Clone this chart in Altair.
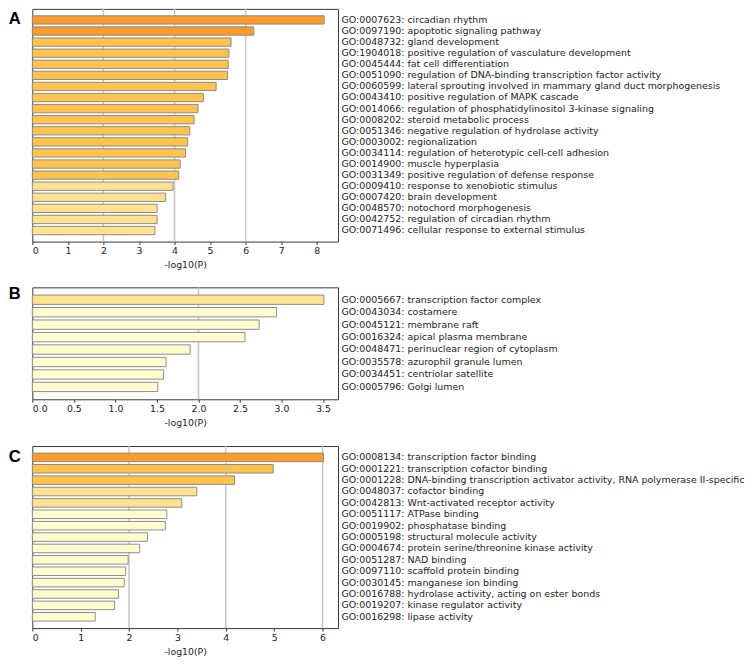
import altair as alt
import pandas as pd

# ---------------- data ----------------
a_terms = [
    "GO:0007623: circadian rhythm",
    "GO:0097190: apoptotic signaling pathway",
    "GO:0048732: gland development",
    "GO:1904018: positive regulation of vasculature development",
    "GO:0045444: fat cell differentiation",
    "GO:0051090: regulation of DNA-binding transcription factor activity",
    "GO:0060599: lateral sprouting involved in mammary gland duct morphogenesis",
    "GO:0043410: positive regulation of MAPK cascade",
    "GO:0014066: regulation of phosphatidylinositol 3-kinase signaling",
    "GO:0008202: steroid metabolic process",
    "GO:0051346: negative regulation of hydrolase activity",
    "GO:0003002: regionalization",
    "GO:0034114: regulation of heterotypic cell-cell adhesion",
    "GO:0014900: muscle hyperplasia",
    "GO:0031349: positive regulation of defense response",
    "GO:0009410: response to xenobiotic stimulus",
    "GO:0007420: brain development",
    "GO:0048570: notochord morphogenesis",
    "GO:0042752: regulation of circadian rhythm",
    "GO:0071496: cellular response to external stimulus",
]
a_values = [8.21, 6.23, 5.59, 5.53, 5.51, 5.49, 5.17, 4.81, 4.66, 4.55,
            4.43, 4.37, 4.31, 4.16, 4.12, 3.96, 3.75, 3.51, 3.51, 3.45]
a_levels = [1, 1, 2, 2, 2, 2, 2, 2, 2, 2, 2, 2, 2, 2, 2, 3, 3, 3, 3, 3]

b_terms = [
    "GO:0005667: transcription factor complex",
    "GO:0043034: costamere",
    "GO:0045121: membrane raft",
    "GO:0016324: apical plasma membrane",
    "GO:0048471: perinuclear region of cytoplasm",
    "GO:0035578: azurophil granule lumen",
    "GO:0034451: centriolar satellite",
    "GO:0005796: Golgi lumen",
]
b_values = [3.51, 2.94, 2.73, 2.56, 1.90, 1.61, 1.58, 1.51]
b_levels = [3, 4, 4, 4, 4, 4, 4, 4]

c_terms = [
    "GO:0008134: transcription factor binding",
    "GO:0001221: transcription cofactor binding",
    "GO:0001228: DNA-binding transcription activator activity, RNA polymerase II-specific",
    "GO:0048037: cofactor binding",
    "GO:0042813: Wnt-activated receptor activity",
    "GO:0051117: ATPase binding",
    "GO:0019902: phosphatase binding",
    "GO:0005198: structural molecule activity",
    "GO:0004674: protein serine/threonine kinase activity",
    "GO:0051287: NAD binding",
    "GO:0097110: scaffold protein binding",
    "GO:0030145: manganese ion binding",
    "GO:0016788: hydrolase activity, acting on ester bonds",
    "GO:0019207: kinase regulator activity",
    "GO:0016298: lipase activity",
]
c_values = [6.02, 4.98, 4.18, 3.40, 3.09, 2.78, 2.75, 2.38, 2.22, 1.98,
            1.93, 1.90, 1.78, 1.70, 1.30]
c_levels = [1, 2, 2, 3, 3, 4, 4, 4, 4, 4, 4, 4, 4, 4, 4]

panel_letters = ["A", "B", "C"]
level_domain = [1, 2, 3, 4]
level_colors = ["#FE9A2C", "#FEC24F", "#FEE28F", "#FFFDCF"]
guide_lines = [2, 4, 6]

FONT = "DejaVu Sans"
TXT = "#222222"


def panel(letter, terms, values, levels, xmax, ticks, fmt, height, letter_dy):
    df = pd.DataFrame({"term": terms, "value": values, "level": levels})
    gl = pd.DataFrame({"value": [g for g in guide_lines if g < xmax]})
    lab = pd.DataFrame({"term": [terms[0]], "value": [0], "letter": [letter]})
    xenc = alt.X(
        "value:Q",
        scale=alt.Scale(domain=[0, xmax], nice=False, zero=True),
        axis=alt.Axis(values=ticks, format=fmt, title="-log10(P)", grid=False,
                      domain=False, tickSize=3, tickColor="#333333",
                      labelPadding=1.5, labelFontSize=9.6, labelFont=FONT,
                      labelColor=TXT, titleFontSize=9.6, titleFont=FONT,
                      titleFontWeight="normal", titleColor=TXT, titlePadding=5),
    )
    yenc = alt.Y(
        "term:N",
        sort=terms,
        scale=alt.Scale(paddingInner=0.25, paddingOuter=0.62),
        axis=alt.Axis(orient="right", ticks=False, domain=False, grid=False,
                      labelPadding=3, labelLimit=0, labelFontSize=9.7,
                      labelFont=FONT, labelColor=TXT, title=None),
    )
    rules = alt.Chart(gl).mark_rule(color="#c4c4c4", strokeWidth=1.5).encode(x=xenc)
    bars = alt.Chart(df).mark_bar(stroke="#8a8a8a", strokeWidth=1).encode(
        x=xenc,
        y=yenc,
        color=alt.Color("level:O", scale=alt.Scale(domain=level_domain, range=level_colors),
                        legend=None),
    )
    letter_mark = alt.Chart(lab).mark_text(
        align="right", baseline="middle", dx=-12, dy=letter_dy, fontSize=17,
        fontWeight="bold", font="Liberation Sans", color="black",
    ).encode(x=xenc, y=yenc, text="letter:N")
    return alt.layer(rules, bars, letter_mark).properties(width=314, height=height)


pa = panel(panel_letters[0], a_terms, a_values, a_levels, 8.6,
           [0, 1, 2, 3, 4, 5, 6, 7, 8], "d", 239, -1)
pb = panel(panel_letters[1], b_terms, b_values, b_levels, 3.68,
           [0, 0.5, 1.0, 1.5, 2.0, 2.5, 3.0, 3.5], ".1f", 115, -6)
pc = panel(panel_letters[2], c_terms, c_values, c_levels, 6.32,
           [0, 1, 2, 3, 4, 5, 6], "d", 187, 0)

chart = alt.vconcat(pa, alt.vconcat(pb, pc, spacing=16), spacing=14).properties(
    padding={"left": 0, "top": -10, "right": 0, "bottom": 0}
).configure_view(stroke="#333333", strokeWidth=1)

chart.save("out.html", embed_options={"renderer": "svg", "actions": False})
